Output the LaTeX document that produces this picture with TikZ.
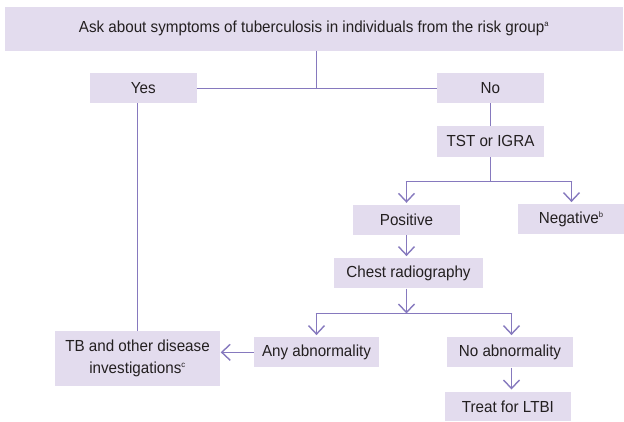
\documentclass[tikz,border=0pt]{standalone}
\usepackage{fontspec}
\setmainfont{Liberation Sans}[FakeStretch=0.95]
\usetikzlibrary{arrows.meta}
\definecolor{boxfill}{HTML}{E3DCEE}
\definecolor{linec}{HTML}{8679BE}
\definecolor{txt}{HTML}{231F20}
\tikzset{
  box/.style={fill=boxfill, draw=none, inner sep=0pt, align=center, text=txt, font=\fontsize{16}{22}\selectfont},
  conn/.style={draw=linec, line width=1.5pt},
  arr/.style={conn, shorten >=2pt, -{Straight Barb[length=8.5pt,width=16pt,line width=1.4pt]}},
}
\newcommand{\sups}[1]{\textsuperscript{\fontsize{8}{8}\selectfont #1}}
\begin{document}
\begin{tikzpicture}[x=1pt,y=-1pt]
\useasboundingbox (0,0) rectangle (624,421);
\node[box, minimum width=618pt, minimum height=43.5pt] (top) at (314,28.75) {Ask about symptoms of tuberculosis in individuals from the risk group\sups{a}};
\node[box, minimum width=106.5pt, minimum height=30pt] (yes) at (143.25,88.2) {Yes};
\node[box, minimum width=107pt, minimum height=30.5pt] (no) at (490.3,88) {No};
\node[box, minimum width=106.6pt, minimum height=30.7pt] (tst) at (490.5,141.3) {TST or IGRA};
\node[box, minimum width=107.3pt, minimum height=30pt] (pos) at (406.5,220) {Positive};
\node[box, minimum width=105.7pt, minimum height=30pt] (neg) at (571.2,219.3) {Negative\sups{b}};
\node[box, minimum width=148.4pt, minimum height=30pt] (chest) at (408.5,273.3) {Chest radiography};
\node[box, minimum width=125.3pt, minimum height=30pt] (any) at (316.5,352.3) {Any abnormality};
\node[box, minimum width=125.4pt, minimum height=30pt] (noab) at (510,352.3) {No abnormality};
\node[box, minimum width=165pt, minimum height=55pt] (tb) at (137.5,358.5) {TB and other disease\\investigations\sups{c}};
\node[box, minimum width=125.7pt, minimum height=29.3pt] (treat) at (507.9,406.35) {Treat for LTBI};
\coordinate (j1) at (316.5,88.5);
\coordinate (j2) at (490.5,181.5);
\coordinate (j3) at (406.5,313.5);
\coordinate (c1) at (406.5,0);
\coordinate (c2) at (511.5,0);
\coordinate (c3) at (571.5,0);
\coordinate (j3r) at (c2 |- j3);
\coordinate (j2r) at (c3 |- j2);
% connectors
\draw[conn] (top.south -| j1) -- (j1);
\draw[conn] (yes.east |- j1) -- (no.west |- j1);
\draw[conn] (tb.north) -- (tb.north |- yes.south);
\draw[conn] (no.south -| j2) -- (tst.north -| j2);
\draw[conn] (tst.south -| j2) -- (j2);
\draw[conn, line cap=round] (pos.north |- j2) -- (j2r);
\draw[arr] (pos.north |- j2) -- (pos.north);
\draw[arr] (j2r) -- (neg.north -| j2r);
\draw[arr] (pos.south -| c1) -- (chest.north -| c1);
\draw[arr, shorten >=0pt] (chest.south -| j3) -- (j3);
\draw[conn, line cap=round] (any.north |- j3) -- (j3r);
\draw[arr] (any.north |- j3) -- (any.north);
\draw[arr] (j3r) -- (noab.north -| j3r);
\draw[arr, shorten >=0.5pt] (any.west) -- (tb.east |- any.west);
\draw[arr] (noab.south -| j3r) -- (treat.north -| j3r);
\end{tikzpicture}
\end{document}
